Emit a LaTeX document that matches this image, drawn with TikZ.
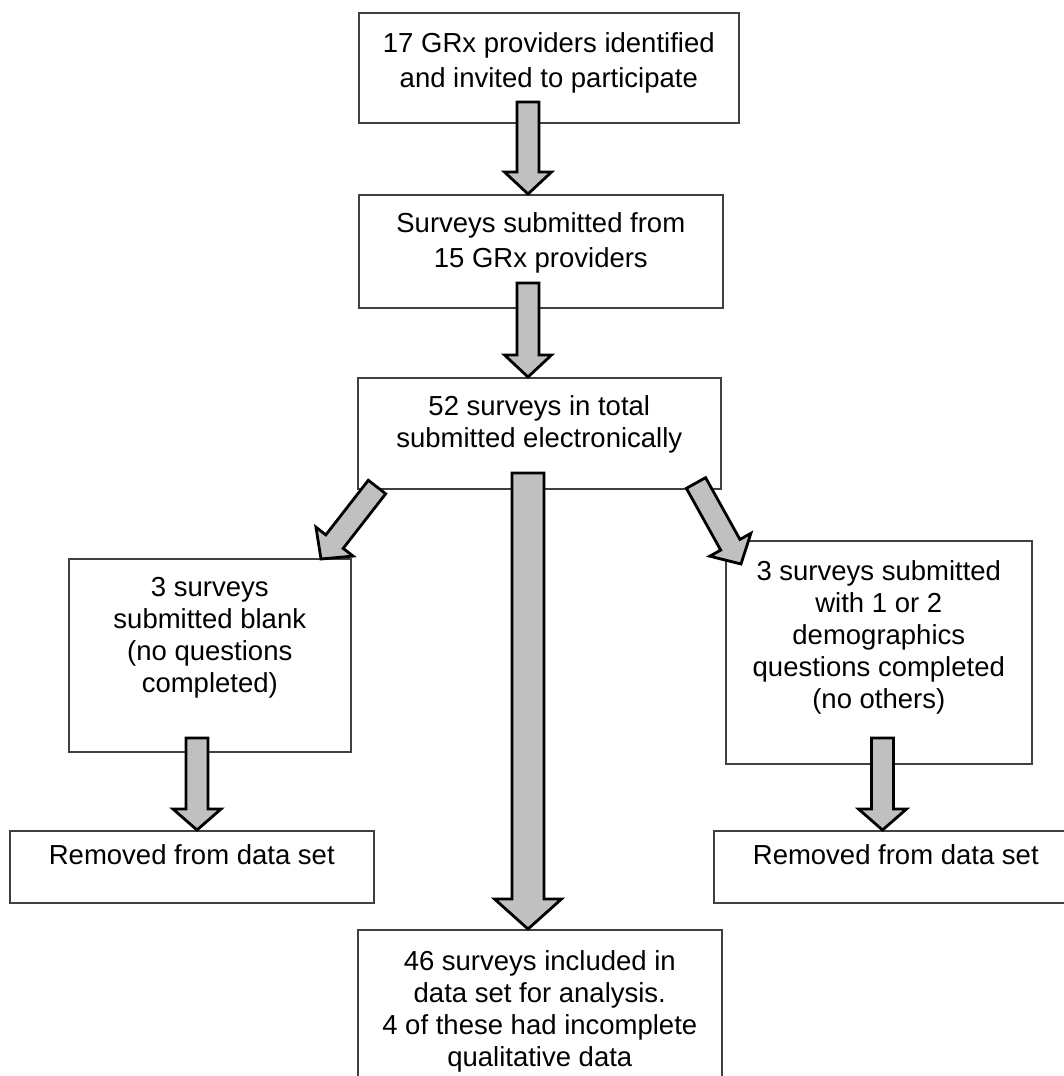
\documentclass[tikz,border=0pt]{standalone}
\usepackage{fontspec}
\setmainfont{Liberation Sans}
\usetikzlibrary{positioning,calc}

\definecolor{arrowgray}{HTML}{C0C0C0}

\tikzset{
  box/.style={draw=black!75, line width=0.8pt, fill=white, inner sep=0pt, anchor=north west},
  txt/.style={inner sep=0pt, align=center, font={\fontsize{13.75pt}{16pt}\selectfont}},
  widetxt/.style={txt, font={\fontsize{13.75pt}{17.5pt}\selectfont}},
  bigarrow/.style={draw=black, line width=1.4pt, fill=arrowgray, line join=miter}
}

% block arrow: from, to, half shaft, half head, head length
\newcommand{\blockarrow}[5]{%
  \coordinate (#1#2h) at ($(#2)!#5!(#1)$);
  \draw[bigarrow] ($(#1)!#3!90:(#2)$) -- ($(#1#2h)!#3!90:(#2)$) -- ($(#1#2h)!#4!90:(#2)$)
    -- (#2) -- ($(#1#2h)!#4!-90:(#2)$) -- ($(#1#2h)!#3!-90:(#2)$) -- ($(#1)!#3!-90:(#2)$) -- cycle;
}

\begin{document}
\begin{tikzpicture}[x=0.5pt, y=-0.5pt]
    \useasboundingbox (0,0) rectangle (1064,1076);
    \fill[white] (0,0) rectangle (1064,1076);

    % boxes
    \node[box, minimum width=190pt, minimum height=55pt] (b1) at (358,12) {};
    \node[box, minimum width=182pt, minimum height=56.5pt] (b2) at (358,194) {};
    \node[box, minimum width=181.5pt, minimum height=55.5pt] (b3) at (357,377) {};
    \node[box, minimum width=141pt, minimum height=96.5pt] (b4) at (68,558) {};
    \node[box, minimum width=153pt, minimum height=111.5pt] (b5) at (725,540) {};
    \node[box, minimum width=182pt, minimum height=36pt] (b6) at (9,830) {};
    \node[box, minimum width=182pt, minimum height=36pt] (b7) at (713,830) {};
    \node[box, minimum width=182pt, minimum height=80.5pt] (b8) at (357,929) {};

    % texts
    \node[widetxt, below=10pt of b1.north] (t1) {17 GRx providers identified\\and invited to participate};
    \node[widetxt, below=9pt of b2.north] (t2) {Surveys submitted from\\15 GRx providers};
    \node[txt, below=9pt of b3.north] (t3) {52 surveys in total\\submitted electronically};
    \node[txt, below=9.5pt of b4.north] (t4) {3 surveys\\submitted blank\\(no questions\\completed)};
    \node[txt, below=10pt of b5.north] (t5) {3 surveys submitted\\with 1 or 2\\demographics\\questions completed\\(no others)};
    \node[txt, below=7pt of b6.north] (t6) {Removed from data set};
    \node[txt, below=7pt of b7.north] (t7) {Removed from data set};
    \node[txt, below=10.5pt of b8.north] (t8) {46 surveys included in\\data set for analysis.\\4 of these had incomplete\\qualitative data};

    % arrow ends
    \coordinate (a1s) at (528,102);
    \coordinate (a1e) at (a1s |- b2.north);
    \coordinate (a2s) at (528,283);
    \coordinate (a2e) at (a2s |- b3.north);
    \coordinate (a3s) at (528,473);
    \coordinate (a3e) at (a3s |- b8.north);
    \coordinate (a4s) at (377,487);
    \coordinate (a4e) at (321,559);
    \coordinate (a5s) at (696,483);
    \coordinate (a5e) at (741,564);
    \coordinate (a6s) at (197,738);
    \coordinate (a6e) at (a6s |- b6.north);
    \coordinate (a7s) at (882.5,738);
    \coordinate (a7e) at (a7s |- b7.north);

    \blockarrow{a1s}{a1e}{5.5pt}{11.75pt}{11pt}
    \blockarrow{a2s}{a2e}{5.5pt}{11.75pt}{11pt}
    \blockarrow{a3s}{a3e}{8pt}{16.75pt}{15pt}
    \blockarrow{a4s}{a4e}{5.5pt}{11.75pt}{11pt}
    \blockarrow{a5s}{a5e}{5.5pt}{11.75pt}{11pt}
    \blockarrow{a6s}{a6e}{5.5pt}{12pt}{10.5pt}
    \blockarrow{a7s}{a7e}{5.5pt}{12pt}{10.5pt}
\end{tikzpicture}
\end{document}
